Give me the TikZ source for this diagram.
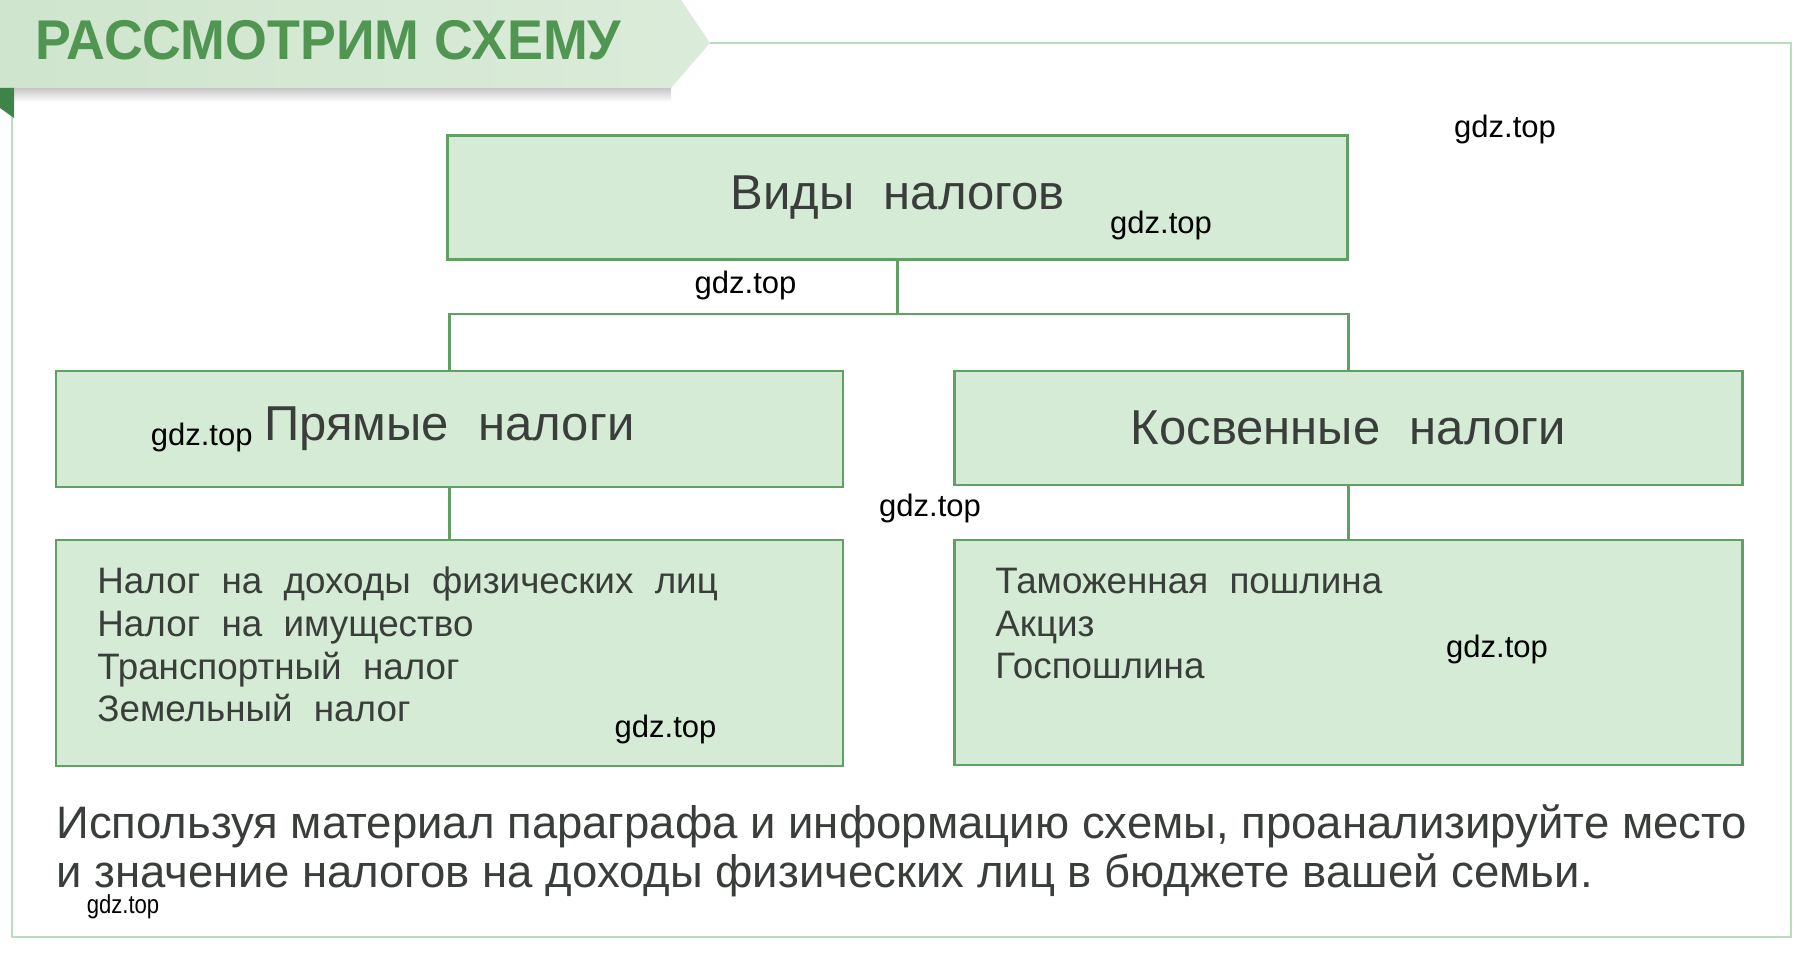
\documentclass[tikz,border=0pt]{standalone}
\usepackage{fontspec}
\setmainfont{Liberation Sans}
\newfontfamily\bannerfont{Liberation Sans}[FakeStretch=0.96]
\newfontfamily\wmfam{Liberation Sans}[FakeStretch=0.85]
\definecolor{boxfill}{RGB}{213,235,213}
\definecolor{boxdraw}{RGB}{96,160,100}
\definecolor{txt}{RGB}{58,62,58}
\definecolor{bannerfill}{RGB}{207,229,205}
\definecolor{bannertxt}{RGB}{80,150,82}
\definecolor{framecol}{RGB}{185,222,190}
\definecolor{foldcol}{RGB}{62,132,72}
\newcommand{\headfont}{\fontsize{24.5}{28}\selectfont\spaceskip=0.6em\relax}
\newcommand{\listfont}{\fontsize{18.4}{22}\selectfont\spaceskip=0.58em\relax}
\newcommand{\bottomfont}{\fontsize{22.75}{26}\selectfont}
\tikzset{
  tbox/.style={draw=boxdraw, line width=1.4pt, fill=boxfill, rectangle, inner sep=0pt, text=txt},
  headtext/.style={font=\headfont},
  listline/.style={anchor=base west, inner sep=0pt, text=txt, font=\listfont},
  conn/.style={draw=boxdraw, line width=1.4pt},
  wm/.style={inner sep=0pt, text=black, font=\fontsize{15.5}{18}\selectfont},
  bottomtext/.style={anchor=base west, inner sep=0pt, text=txt, font=\bottomfont}
}
\begin{document}
\begin{tikzpicture}[x=0.5pt,y=-0.5pt]
\useasboundingbox (0,0) rectangle (1818,961);
\fill[white] (0,0) rectangle (1818,961);
% shadow under banner
\shade[top color=black!22, bottom color=white] (14,88) rectangle (671,102);
% frame
\draw[framecol, line width=1pt] (710,43) -- (1791,43) -- (1791,937) -- (12,937) -- (12,88);
% banner
\shade[left color=bannerfill, right color=bannerfill!75!white] (0,0) -- (681,0) -- (710,43) -- (671,88) -- (0,88) -- cycle;
\fill[foldcol] (0,88) -- (14,88) -- (14,118) -- (0,108) -- cycle;
\node[anchor=base west, inner sep=0pt, text=bannertxt, font=\bannerfont\bfseries\fontsize{28}{32}\selectfont] (title) at (35,60) {РАССМОТРИМ СХЕМУ};
% boxes
\node[tbox, headtext, minimum width=450pt, minimum height=62pt] (vid) at (897.5,197.5) {Виды налогов};
\node[tbox, headtext, minimum width=393.5pt, minimum height=58pt] (pr) at (449.4,429) {Прямые налоги};
\node[tbox, headtext, minimum width=394pt, minimum height=57pt] (kos) at (1348.3,428) {Косвенные налоги};
\node[tbox, minimum width=393.5pt, minimum height=113pt] (lst1) at (449.4,653) {};
\node[tbox, minimum width=394pt, minimum height=112.5pt] (lst2) at (1348.3,652.5) {};
% connectors
\coordinate (j) at (897.5,314);
\draw[conn] (vid.south) -- (j);
\draw[conn] (pr.north) -- (pr.north |- j) -- (kos.north |- j) -- (kos.north);
\draw[conn] (pr.south) -- (lst1.north);
\draw[conn] (kos.south) -- (lst2.north);
% list texts
\node[listline] (a1) at (97,594) {Налог на доходы физических лиц};
\node[listline] (a2) at (97,636.5) {Налог на имущество};
\node[listline] (a3) at (97,679.5) {Транспортный налог};
\node[listline] (a4) at (97,721.5) {Земельный налог};
\node[listline] (b1) at (995,593.5) {Таможенная пошлина};
\node[listline] (b2) at (995,636) {Акциз};
\node[listline] (b3) at (995,678.5) {Госпошлина};
% bottom text
\node[bottomtext] (q1) at (56,838) {Используя материал параграфа и информацию схемы, проанализируйте место};
\node[bottomtext] (q2) at (56,887) {и значение налогов на доходы физических лиц в бюджете вашей семьи.};
% watermarks
\node[wm] (w1) at (1505,129) {gdz.top};
\node[wm] (w2) at (1161,225) {gdz.top};
\node[wm] (w3) at (745.5,285) {gdz.top};
\node[wm] (w4) at (201.7,437) {gdz.top};
\node[wm] (w5) at (930,508) {gdz.top};
\node[wm] (w6) at (665.5,729) {gdz.top};
\node[wm] (w7) at (1497,649) {gdz.top};
\node[wm, font=\wmfam\fontsize{13}{15}\selectfont] (w8) at (123,907) {gdz.top};
\end{tikzpicture}
\end{document}
